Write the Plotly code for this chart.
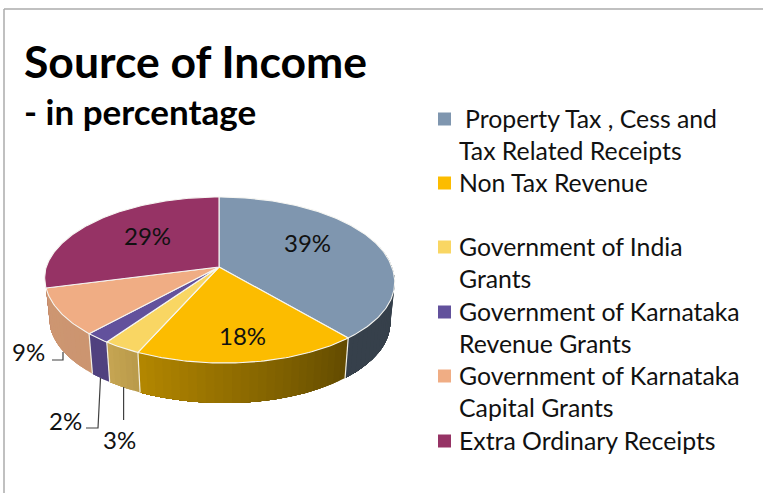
import numpy as np
import plotly.graph_objects as go

# ---- data ----
categories = [" Property Tax , Cess and<br>Tax Related Receipts", "Non Tax Revenue",
              "Government of India<br>Grants", "Government of Karnataka<br>Revenue Grants",
              "Government of Karnataka<br>Capital Grants", "Extra Ordinary Receipts"]
values = [39, 18, 3, 2, 9, 29]
value_labels = ["39%", "18%", "3%", "2%", "9%", "29%"]

# ---- style ----
top_colors = ["#7f96af", "#fcbc00", "#f9d663", "#62519c", "#f0ad84", "#963365"]
wall_right = ["#36404b", "#624b00", "#b99a4a", "#50417f", "#cc9570", "#6d2449"]
wall_left = ["#36404b", "#b48700", "#c6a553", "#50417f", "#cd9672", "#6d2449"]
FONT = "Lato"
TXT = "#111111"
CX, CY = 219.0, 267.0      # apex of the pie on the page
AX, BY, PERSP, SKEW = 172.8, 81.0, 0.157, 0.055
DEPTH = 40.0


def project(theta_deg, lower=False):
    """Page position of the rim at clockwise angle theta, by tilted-disc perspective."""
    t = np.radians(theta_deg)
    x, y = np.sin(t), -np.cos(t)
    w = 1 - PERSP * y
    X, Y = AX * x / w, BY * y / w
    S = SKEW * np.maximum(Y, 0)
    if lower:
        return CX + 0.975 * X + S, CY + Y + DEPTH
    return CX + X + S, CY + Y


def mix(a, b, f):
    ca = [int(a[i:i + 2], 16) for i in (1, 3, 5)]
    cb = [int(b[i:i + 2], 16) for i in (1, 3, 5)]
    return "#%02x%02x%02x" % tuple(round(p + (q - p) * f) for p, q in zip(ca, cb))


fig = go.Figure()
edges = np.concatenate([[0], np.cumsum(values)]) * 3.6

# side walls: overlapping strips give a smooth gradient without seams
for i in range(len(values)):
    a0, a1 = max(edges[i], 75.0), min(edges[i + 1], 256.0)
    if a1 <= a0:
        continue
    n = max(1, int(np.ceil((a1 - a0) / 2.5)))
    stops = np.linspace(a0, a1, n + 1)
    for k in range(n):
        th = np.linspace(stops[k], a1, max(3, (n - k) + 1))
        xt, yt = project(th)
        xb, yb = project(th[::-1], lower=True)
        col = mix(wall_right[i], wall_left[i], (k + 0.5) / n)
        fig.add_trace(go.Scatter(x=np.r_[xt, xb, xt[0]], y=np.r_[yt, yb, yt[0]], mode="none",
                                 fill="toself", fillcolor=col,
                                 hoverinfo="skip", showlegend=False))
# white seams on the wall
for e in edges:
    if 100 < e < 250:
        xt, yt = project(e)
        xb, yb = project(e, lower=True)
        fig.add_trace(go.Scatter(x=[xt, xb], y=[yt, yb], mode="lines",
                                 line=dict(color="#f4f1e6", width=1.2), hoverinfo="skip", showlegend=False))

# top faces
for i in range(len(values)):
    th = np.linspace(edges[i], edges[i + 1], max(3, int(values[i] * 4)))
    xr, yr = project(th)
    fig.add_trace(go.Scatter(x=np.r_[CX, xr, CX], y=np.r_[CY, yr, CY], mode="lines", fill="toself",
                             fillcolor=top_colors[i], line=dict(color="#f6f6f2", width=1.1),
                             text=[categories[i]] * (len(th) + 2), hoverinfo="text", showlegend=False))

# legend markers
legend_y = [119, 183, 247, 312, 376, 441]
fig.add_trace(go.Scatter(x=[444.5] * len(legend_y), y=legend_y, mode="markers",
                         marker=dict(symbol="square", size=13, color=top_colors, line=dict(width=0)),
                         hoverinfo="skip", showlegend=False))

ann = []


def text(x, y, s, size, bold=False, anchor="left", color=TXT):
    ann.append(dict(x=x, y=y, xref="x", yref="y", text=("<b>%s</b>" % s) if bold else s, showarrow=False,
                    xanchor=anchor, yanchor="middle", align="left",
                    font=dict(family=FONT, size=size, color=color)))


text(22, 60, "Source of Income", 44.5, bold=True, color="#000000")
text(22, 111, "- in percentage", 35, bold=True, color="#000000")

# legend text, one line per annotation for exact line pitch
legend_lines = [[s for s in c.split("<br>")] for c in categories]
line_y = [[118, 150], [182], [246, 278], [311, 343], [375, 407], [440]]
for lines, ys in zip(legend_lines, line_y):
    for s, y in zip(lines, ys):
        text(456.5 + (6 if s.startswith(" ") else 0), y, s.strip(), 24.8)

# value labels
label_pos = [(307, 242), (242, 335), (119, 439), (65, 420), (28, 351), (147, 235)]
for s, (x, y) in zip(value_labels, label_pos):
    text(x, y, s, 24, anchor="center")

# leader lines
for xs, ys in [([52, 63, 63], [360, 360, 352]), ([86, 98, 100.5], [428, 428, 378]), ([123.6, 123.6], [420, 387])]:
    fig.add_trace(go.Scatter(x=xs, y=ys, mode="lines", line=dict(color="#404040", width=1.2),
                             hoverinfo="skip", showlegend=False))

fig.update_layout(
    width=763, height=493, margin=dict(l=0, r=0, t=0, b=0), paper_bgcolor="white", plot_bgcolor="white",
    xaxis=dict(range=[0, 763], visible=False, fixedrange=True),
    yaxis=dict(range=[493, 0], visible=False, fixedrange=True),
    annotations=ann,
    shapes=[dict(type="line", xref="x", yref="y", x0=4, y0=9, x1=763, y1=9, line=dict(color="#ababab", width=1.5)),
            dict(type="line", xref="x", yref="y", x0=4, y0=9, x1=4, y1=493, line=dict(color="#ababab", width=1.5))],
)
fig.write_html("out.html", config=dict(displayModeBar=False),
               post_script="document.body.style.margin='0';")
